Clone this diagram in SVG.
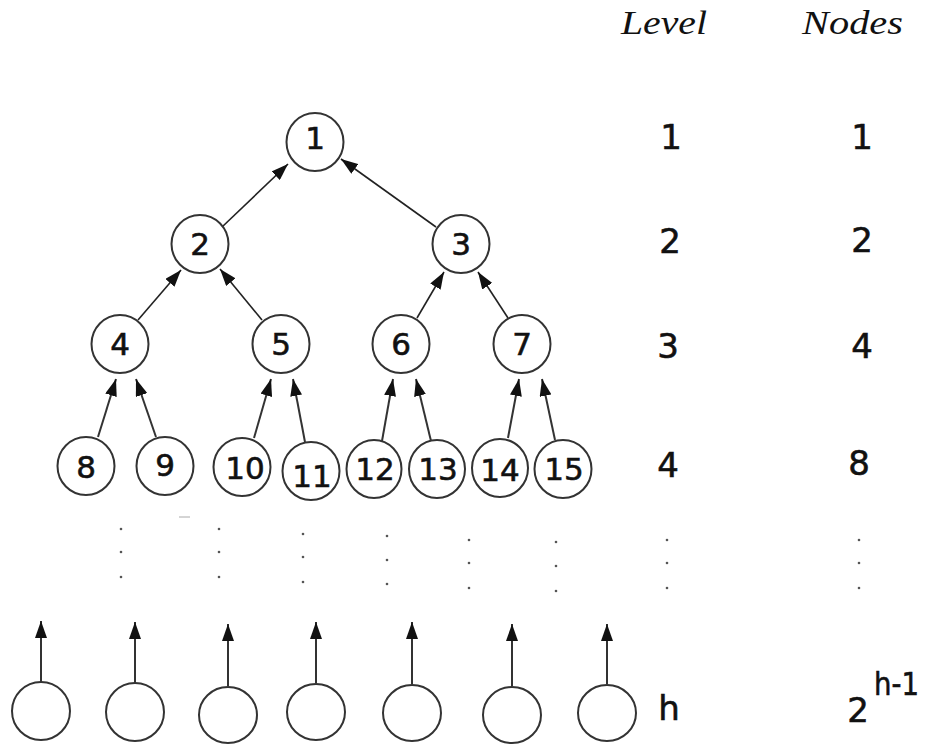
<svg xmlns="http://www.w3.org/2000/svg" width="930" height="746" viewBox="0 0 930 746">
<style>
.node ellipse{fill:#fff;stroke:#333;stroke-width:2}
.node text{font-family:"DejaVu Sans",sans-serif;font-size:31px;fill:#111;stroke:#111;stroke-width:0.6;text-anchor:middle}
.lbl{font-family:"DejaVu Sans",sans-serif;font-size:34px;fill:#111;stroke:#111;stroke-width:0.6;text-anchor:middle}
.hdr{font-family:"Liberation Serif",serif;font-style:italic;font-size:34px;fill:#111}
.edge{stroke:#222;stroke-width:1.6;fill:none;marker-end:url(#ah)}
.edge2{stroke:#333;stroke-width:2;fill:none;marker-end:url(#ah)}
.dot{fill:#555}
</style>
<defs>
<marker id="ah" markerUnits="userSpaceOnUse" viewBox="0 0 17 12" refX="17" refY="6" markerWidth="17" markerHeight="12" orient="auto">
<path d="M0,0 L17,6 L0,12 z" fill="#111"/>
</marker>
</defs>
<rect width="930" height="746" fill="#fff"/>
<text class="hdr" x="621" y="34" textLength="86" lengthAdjust="spacingAndGlyphs">Level</text>
<text class="hdr" x="802" y="34" textLength="101" lengthAdjust="spacingAndGlyphs">Nodes</text>
<g id="connectors">
<line class="edge" x1="222" y1="227" x2="288" y2="164"/>
<line class="edge" x1="436" y1="227" x2="341" y2="159"/>
<line class="edge" x1="138" y1="320" x2="181" y2="270"/>
<line class="edge" x1="262" y1="320" x2="220" y2="269"/>
<line class="edge" x1="417" y1="318" x2="444" y2="272"/>
<line class="edge" x1="508" y1="318" x2="478" y2="272"/>
<line class="edge2" x1="98" y1="437" x2="116" y2="379"/>
<line class="edge2" x1="156" y1="437" x2="136" y2="379"/>
<line class="edge2" x1="254" y1="438" x2="271" y2="379"/>
<line class="edge2" x1="305" y1="442" x2="293" y2="379"/>
<line class="edge2" x1="382" y1="441" x2="393" y2="379"/>
<line class="edge2" x1="431" y1="441" x2="416" y2="379"/>
<line class="edge2" x1="508" y1="438" x2="519" y2="379"/>
<line class="edge2" x1="555" y1="440" x2="542" y2="379"/>
<line class="edge2" x1="41" y1="682" x2="41" y2="621"/>
<line class="edge2" x1="135" y1="683" x2="135" y2="622"/>
<line class="edge2" x1="228" y1="686" x2="228" y2="624"/>
<line class="edge2" x1="316" y1="683" x2="316" y2="622"/>
<line class="edge2" x1="412" y1="684" x2="412" y2="622"/>
<line class="edge2" x1="512" y1="686" x2="512" y2="624"/>
<line class="edge2" x1="607" y1="684" x2="607" y2="624"/>
</g>
<g id="n1" class="node"><ellipse cx="315" cy="142" rx="28.5" ry="29"/><text x="315" y="149">1</text></g>
<g id="n2" class="node"><ellipse cx="200" cy="244" rx="28.5" ry="29"/><text x="200" y="255">2</text></g>
<g id="n3" class="node"><ellipse cx="461" cy="244" rx="28.5" ry="29"/><text x="461" y="255">3</text></g>
<g id="n4" class="node"><ellipse cx="120" cy="344" rx="28.5" ry="29"/><text x="120" y="355">4</text></g>
<g id="n5" class="node"><ellipse cx="281" cy="344" rx="28.5" ry="29"/><text x="281" y="355">5</text></g>
<g id="n6" class="node"><ellipse cx="401" cy="344" rx="28.5" ry="29"/><text x="401" y="355">6</text></g>
<g id="n7" class="node"><ellipse cx="522" cy="344" rx="28.5" ry="29"/><text x="522" y="355">7</text></g>
<g id="n8" class="node"><ellipse cx="86" cy="466" rx="28.5" ry="29"/><text x="86" y="478">8</text></g>
<g id="n9" class="node"><ellipse cx="165" cy="466" rx="28.5" ry="29"/><text x="165" y="476">9</text></g>
<g id="n10" class="node"><ellipse cx="242" cy="467" rx="28.5" ry="29"/><text x="245" y="479">10</text></g>
<g id="n11" class="node"><ellipse cx="311" cy="471" rx="28.5" ry="29"/><text x="312" y="487">11</text></g>
<g id="n12" class="node"><ellipse cx="374" cy="469" rx="27.5" ry="29"/><text x="375" y="480">12</text></g>
<g id="n13" class="node"><ellipse cx="437" cy="469" rx="28" ry="29"/><text x="438" y="480">13</text></g>
<g id="n14" class="node"><ellipse cx="500" cy="468" rx="28" ry="29"/><text x="500" y="481">14</text></g>
<g id="n15" class="node"><ellipse cx="563" cy="469" rx="28.5" ry="29"/><text x="564" y="480">15</text></g>
<g id="b1" class="node"><ellipse cx="41" cy="711" rx="29" ry="29"/></g>
<g id="b2" class="node"><ellipse cx="135" cy="712" rx="29" ry="29"/></g>
<g id="b3" class="node"><ellipse cx="228" cy="715" rx="29" ry="28"/></g>
<g id="b4" class="node"><ellipse cx="316" cy="712" rx="29" ry="28"/></g>
<g id="b5" class="node"><ellipse cx="412" cy="713" rx="29" ry="28"/></g>
<g id="b6" class="node"><ellipse cx="512" cy="715" rx="29" ry="28"/></g>
<g id="b7" class="node"><ellipse cx="607" cy="713" rx="29" ry="28"/></g>
<g id="dots">
<circle class="dot" cx="121" cy="529" r="1.3"/><circle class="dot" cx="121" cy="552" r="1.3"/><circle class="dot" cx="121" cy="577" r="1.3"/>
<circle class="dot" cx="219" cy="529" r="1.3"/><circle class="dot" cx="219" cy="552" r="1.3"/><circle class="dot" cx="219" cy="577" r="1.3"/>
<circle class="dot" cx="303" cy="534" r="1.3"/><circle class="dot" cx="303" cy="557" r="1.3"/><circle class="dot" cx="303" cy="582" r="1.3"/>
<circle class="dot" cx="387" cy="536" r="1.3"/><circle class="dot" cx="387" cy="560" r="1.3"/><circle class="dot" cx="387" cy="584" r="1.3"/>
<circle class="dot" cx="469" cy="540" r="1.3"/><circle class="dot" cx="469" cy="563" r="1.3"/><circle class="dot" cx="469" cy="588" r="1.3"/>
<circle class="dot" cx="556" cy="542" r="1.3"/><circle class="dot" cx="556" cy="566" r="1.3"/><circle class="dot" cx="556" cy="591" r="1.3"/>
<circle class="dot" cx="667" cy="540" r="1.3"/><circle class="dot" cx="667" cy="563" r="1.3"/><circle class="dot" cx="667" cy="588" r="1.3"/>
<circle class="dot" cx="859" cy="540" r="1.3"/><circle class="dot" cx="859" cy="563" r="1.3"/><circle class="dot" cx="859" cy="588" r="1.3"/>
<line x1="179" y1="517" x2="190" y2="517" stroke="#aaa" stroke-width="1"/>
</g>
<g id="levels">
<text class="lbl" x="671" y="149">1</text>
<text class="lbl" x="670" y="253">2</text>
<text class="lbl" x="668" y="358">3</text>
<text class="lbl" x="668" y="477">4</text>
<text class="lbl" x="669" y="720">h</text>
</g>
<g id="counts">
<text class="lbl" x="862" y="149">1</text>
<text class="lbl" x="862" y="252">2</text>
<text class="lbl" x="862" y="358">4</text>
<text class="lbl" x="859" y="475">8</text>
<text class="lbl" x="858" y="722">2</text>
<text class="lbl" x="874" y="695" style="text-anchor:start;font-size:32px" textLength="45" lengthAdjust="spacingAndGlyphs">h-1</text>
</g>
</svg>
